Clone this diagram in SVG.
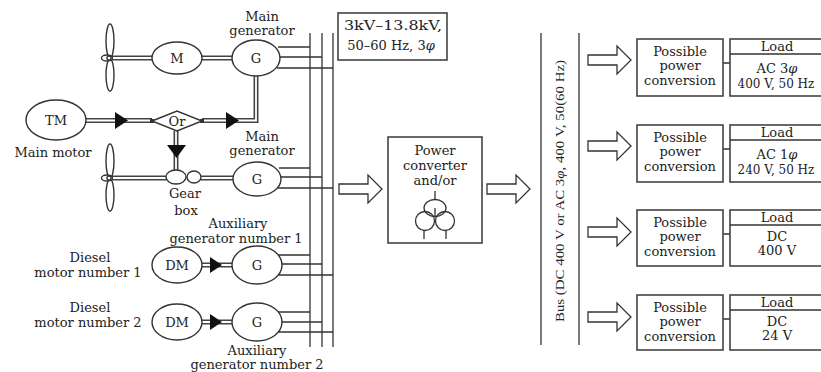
<svg xmlns="http://www.w3.org/2000/svg" width="821" height="372" viewBox="0 0 821 372">
<style>
text{font-family:"DejaVu Serif","Liberation Serif",serif;font-size:13px;fill:#222;text-anchor:middle}
.ln{stroke:#333;stroke-width:1.3;fill:none}
.bx{stroke:#444;stroke-width:1.6;fill:#fff}
.el{stroke:#333;stroke-width:1.4;fill:#fff}
.so{stroke:#444;stroke-width:5;fill:none;stroke-linejoin:miter}
.si{stroke:#fff;stroke-width:1.8;fill:none;stroke-linejoin:miter}
.tri{fill:#111}
.ha{stroke:#333;stroke-width:1.3;fill:#fff;stroke-linejoin:miter}
.sm{font-size:12px}
</style>
<defs>
<path id="harrow" d="M0,-5 L29,-5 L29,-14 L43,0 L29,14 L29,5 L0,5 Z"/>
<g id="prop">
<ellipse cx="0" cy="-17" rx="4" ry="17" class="el"/>
<ellipse cx="0" cy="17" rx="4" ry="16" class="el"/>
<ellipse cx="-3" cy="0" rx="5.5" ry="3" class="el"/>
<circle cx="-1" cy="0" r="2" class="el"/>
</g>
</defs>
<rect width="821" height="372" fill="#fff"/>

<g id="connectors">
<path class="so" d="M112,58 H152 M202,58 H232"/>
<path class="si" d="M112,58 H152 M202,58 H232"/>
<path class="so" d="M86,120.5 H152 M202,120.5 H256 V76"/>
<path class="si" d="M86,120.5 H152 M202,120.5 H256 V76"/>
<path class="so" d="M176,131 V170"/>
<path class="si" d="M176,131 V170"/>
<path class="so" d="M112,178 H166 M201,178 H233"/>
<path class="si" d="M112,178 H166 M201,178 H233"/>
<path class="so" d="M202,265 H232 M202,322 H232"/>
<path class="si" d="M202,265 H232 M202,322 H232"/>
<polygon class="tri" points="115,112 128,120.5 115,129"/>
<polygon class="tri" points="226,112 239,120.5 226,129"/>
<polygon class="tri" points="167,145 186,145 176.5,158"/>
<polygon class="tri" points="210,257 222,265 210,273"/>
<polygon class="tri" points="210,314 222,322 210,330"/>
<path class="ln" d="M278,47 H310 M280,57 H322 M277,68 H333"/>
<path class="ln" d="M279,168 H310 M281,177 H322 M278,188 H333"/>
<path class="ln" d="M276,255 H310 M281,264 H322 M277,275 H333"/>
<path class="ln" d="M276,312 H310 M281,322 H322 M276,332 H333"/>
<path class="ln" d="M310,33 V347 M322,33 V347 M333,33 V347"/>
<path class="ln" d="M541,33 V345 M579,33 V345"/>
<use href="#harrow" class="ha" transform="translate(339,189)"/>
<use href="#harrow" class="ha" transform="translate(487,189)"/>
<use href="#harrow" class="ha" transform="translate(588,60)"/>
<use href="#harrow" class="ha" transform="translate(588,146)"/>
<use href="#harrow" class="ha" transform="translate(588,232)"/>
<use href="#harrow" class="ha" transform="translate(588,317)"/>
<path class="ln" d="M723,63 H730 M723,149 H730 M723,234 H730 M723,319 H730"/>
</g>

<g id="prop1"><use href="#prop" transform="translate(110,58)"/></g>
<g id="prop2"><use href="#prop" transform="translate(110,178)"/></g>

<g id="motor-M"><ellipse class="el" cx="177" cy="58" rx="25" ry="16"/><text x="177" y="63">M</text></g>
<g id="gen1"><ellipse class="el" cx="256" cy="58" rx="24" ry="18"/><text x="256" y="63">G</text>
<text x="262" y="21">Main</text><text x="262" y="35">generator</text></g>
<g id="TM"><ellipse class="el" cx="56" cy="120" rx="30" ry="20"/><text x="56" y="125">TM</text>
<text x="53" y="157">Main motor</text></g>
<g id="or"><polygon class="el" points="152,121 177,111 202,121 177,131"/>
<rect x="150" y="119" width="4" height="4" fill="#333"/><rect x="200" y="119" width="4" height="4" fill="#333"/>
<text x="177" y="126">Or</text></g>
<g id="gearbox"><ellipse class="el" cx="176" cy="177" rx="10" ry="7"/><ellipse class="el" cx="194" cy="177" rx="7" ry="6"/>
<text x="185" y="198">Gear</text><text x="186" y="215">box</text></g>
<g id="gen2"><ellipse class="el" cx="257" cy="179" rx="24" ry="17"/><text x="257" y="184">G</text>
<text x="262" y="141">Main</text><text x="262" y="155">generator</text></g>

<g id="dm1"><ellipse class="el" cx="177" cy="265" rx="25" ry="18"/><text x="177" y="270">DM</text>
<text x="90" y="262">Diesel</text><text x="88" y="277">motor number 1</text></g>
<g id="gen3"><ellipse class="el" cx="257" cy="265" rx="25" ry="19"/><text x="257" y="270">G</text>
<text x="238" y="228">Auxiliary</text><text x="236" y="243">generator number 1</text></g>
<g id="dm2"><ellipse class="el" cx="177" cy="322" rx="25" ry="18"/><text x="177" y="327">DM</text>
<text x="90" y="312">Diesel</text><text x="88" y="327">motor number 2</text></g>
<g id="gen4"><ellipse class="el" cx="257" cy="322" rx="25" ry="19"/><text x="257" y="327">G</text>
<text x="257" y="355">Auxiliary</text><text x="257" y="369">generator number 2</text></g>

<g id="mvlabel"><rect class="bx" x="338" y="13" width="109" height="47"/>
<text x="393" y="30" textLength="98" lengthAdjust="spacingAndGlyphs">3kV–13.8kV,</text>
<text x="391" y="50">50–60 Hz, 3<tspan font-style="italic">φ</tspan></text></g>

<g id="converter"><rect class="bx" x="388" y="137" width="94" height="106"/>
<text x="435" y="155">Power</text><text x="435" y="170">converter</text><text x="435" y="185">and/or</text>
<path class="ln" d="M435,191 V200 M424,230 V239 M446,230 V239 M435,208 V216"/>
<ellipse class="ln" cx="435" cy="208" rx="11" ry="8.5"/>
<circle class="ln" cx="425" cy="221" r="9.5"/>
<circle class="ln" cx="445" cy="221" r="9.5"/></g>

<g id="buslabel"><text transform="translate(564,191) rotate(-90)" style="font-family:'Liberation Serif',serif;font-size:13px" textLength="262" lengthAdjust="spacingAndGlyphs">Bus (DC 400 V or AC 3<tspan font-style="italic">φ</tspan>, 400 V, 50(60 Hz)</text></g>

<g id="conv1"><rect class="bx" x="637" y="39" width="86" height="57"/>
<text x="680" y="56">Possible</text><text x="680" y="70">power</text><text x="680" y="85">conversion</text></g>
<g id="load1"><rect class="bx" x="730" y="39" width="100" height="57"/><path class="ln" d="M730,54 H830"/>
<text x="777" y="51">Load</text><text x="777" y="73">AC 3<tspan font-style="italic">φ</tspan></text><text x="776" y="88" class="sm">400 V, 50 Hz</text></g>

<g id="conv2"><rect class="bx" x="637" y="125" width="86" height="57"/>
<text x="680" y="142">Possible</text><text x="680" y="156">power</text><text x="680" y="171">conversion</text></g>
<g id="load2"><rect class="bx" x="730" y="125" width="100" height="57"/><path class="ln" d="M730,140 H830"/>
<text x="777" y="137">Load</text><text x="777" y="159">AC 1<tspan font-style="italic">φ</tspan></text><text x="776" y="174" class="sm">240 V, 50 Hz</text></g>

<g id="conv3"><rect class="bx" x="637" y="210" width="86" height="56"/>
<text x="680" y="227">Possible</text><text x="680" y="241">power</text><text x="680" y="256">conversion</text></g>
<g id="load3"><rect class="bx" x="730" y="210" width="100" height="56"/><path class="ln" d="M730,225 H830"/>
<text x="777" y="222">Load</text><text x="777" y="241">DC</text><text x="777" y="255">400 V</text></g>

<g id="conv4"><rect class="bx" x="637" y="295" width="86" height="55"/>
<text x="680" y="312">Possible</text><text x="680" y="326">power</text><text x="680" y="341">conversion</text></g>
<g id="load4"><rect class="bx" x="730" y="295" width="100" height="55"/><path class="ln" d="M730,310 H830"/>
<text x="777" y="307">Load</text><text x="777" y="326">DC</text><text x="777" y="340">24 V</text></g>
</svg>
